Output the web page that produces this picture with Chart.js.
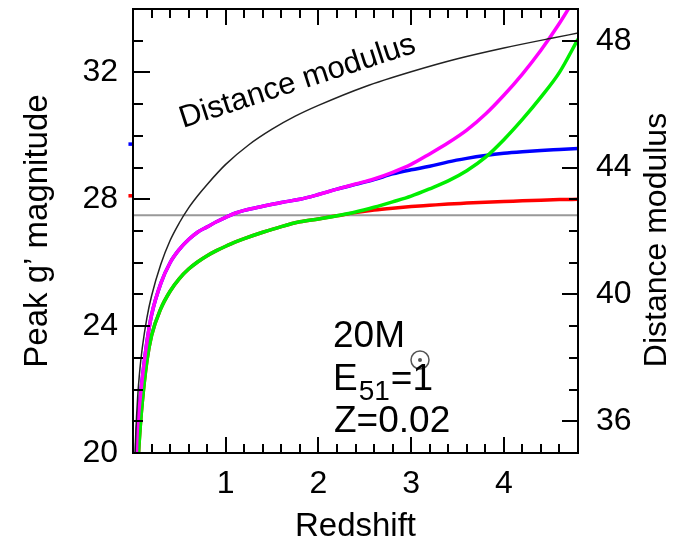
<!DOCTYPE html>
<html>
<head>
<meta charset="utf-8">
<script src="https://cdn.jsdelivr.net/npm/chart.js@4.4.0/dist/chart.umd.min.js"></script>
<style>
  body { margin: 0; background: #fff; }
</style>
</head>
<body>
<canvas id="myChart" width="677" height="544"></canvas>
<script>
// redshift grid for the light curves
var redshift = [0.02, 0.04, 0.06, 0.08, 0.1, 0.15, 0.2, 0.3, 0.4, 0.5, 0.6, 0.7, 0.8, 0.9, 1.0, 1.1, 1.2, 1.4, 1.6, 1.8,
                2.0, 2.2, 2.4, 2.6, 2.8, 3.0, 3.2, 3.4, 3.6, 3.8, 4.0, 4.2, 4.4, 4.6, 4.8];

// peak g' magnitudes
var magentaMag = [17.5, 20.3, 21.2, 21.8, 22.35, 23.5, 24.35, 25.35, 26.0, 26.42, 26.73, 26.97, 27.13, 27.29, 27.43, 27.56, 27.65, 27.78, 27.9, 28.0,
                  28.15, 28.32, 28.48, 28.64, 28.85, 29.1, 29.43, 29.78, 30.18, 30.68, 31.28, 31.95, 32.7, 33.55, 34.5];
var blueMag    = [17.5, 20.3, 21.2, 21.8, 22.35, 23.5, 24.35, 25.35, 26.0, 26.42, 26.73, 26.97, 27.13, 27.29, 27.43, 27.56, 27.65, 27.78, 27.9, 28.0,
                  28.15, 28.32, 28.47, 28.62, 28.8, 28.93, 29.04, 29.18, 29.29, 29.38, 29.45, 29.5, 29.54, 29.57, 29.6];
var greenMag   = [15.5, 18.6, 20.0, 20.9, 21.6, 22.9, 23.7, 24.55, 25.1, 25.5, 25.8, 26.03, 26.22, 26.38, 26.52, 26.65, 26.76, 26.96, 27.14, 27.29,
                  27.38, 27.48, 27.6, 27.75, 27.92, 28.1, 28.33, 28.58, 28.9, 29.32, 29.88, 30.52, 31.22, 32.0, 33.05];
var redMag     = [15.5, 18.6, 20.0, 20.9, 21.6, 22.9, 23.7, 24.55, 25.1, 25.5, 25.8, 26.03, 26.22, 26.38, 26.52, 26.65, 26.76, 26.96, 27.14, 27.29,
                  27.38, 27.48, 27.58, 27.66, 27.72, 27.77, 27.81, 27.85, 27.88, 27.91, 27.93, 27.95, 27.97, 27.99, 28.0];

// distance modulus curve (right axis)
var dmRedshift = [0.01, 0.02, 0.03, 0.05, 0.075, 0.1, 0.15, 0.2, 0.3, 0.4, 0.5, 0.6, 0.7, 0.8, 1.0, 1.25, 1.5, 1.75, 2.0, 2.5, 3.0, 3.5, 4.0, 4.5, 4.8];
var distModulus = [33.1, 34.7, 35.61, 36.75, 37.66, 38.31, 39.26, 39.95, 40.95, 41.7, 42.26, 42.73, 43.12, 43.47, 44.1, 44.72, 45.21, 45.62, 45.96, 46.55, 47.02, 47.43, 47.77, 48.07, 48.24];

// detection limit (horizontal grey line)
var limitMag = 27.5;
var limitRange = [0, 4.8];

// little coloured marks on the left axis
var edgeMarkZ = -0.03;
var edgeMarkMag = [33.0, 29.74, 28.11];
var edgeMarkColors = ['#00ff00', '#0000ff', '#ff0000'];

// axis tick settings
var xMajor = [1, 2, 3, 4];
var yMajor = [20, 24, 28, 32];
var y2Major = [36, 40, 44, 48];

function pts(xs, ys) {
  return xs.map(function(x, i) { return { x: x, y: ys[i] }; });
}

function isIn(list, v) {
  for (var i = 0; i < list.length; i++) {
    if (Math.abs(list[i] - v) < 1e-6) return true;
  }
  return false;
}

var fontFamily = '"Liberation Sans", Arial, Helvetica, sans-serif';

// inward ticks, frame and text labels
var frameTicks = {
  id: 'frameTicks',
  afterDraw: function(chart) {
    var c = chart.ctx, a = chart.chartArea;
    var sx = chart.scales.x, sy = chart.scales.y, sy2 = chart.scales.y2;
    c.save();
    c.strokeStyle = '#000';
    c.lineWidth = 2;
    c.beginPath();
    sx.ticks.forEach(function(t) {
      var px = Math.round(sx.getPixelForValue(t.value));
      var len = isIn(xMajor, t.value) ? 16 : 9;
      c.moveTo(px, a.bottom); c.lineTo(px, a.bottom - len);
      c.moveTo(px, a.top); c.lineTo(px, a.top + len);
    });
    sy.ticks.forEach(function(t) {
      var py = Math.round(sy.getPixelForValue(t.value));
      var len = isIn(yMajor, t.value) ? 17 : 10;
      c.moveTo(a.left, py); c.lineTo(a.left + len, py);
    });
    sy2.ticks.forEach(function(t) {
      var py = Math.round(sy2.getPixelForValue(t.value));
      var len = isIn(y2Major, t.value) ? 16 : 9;
      c.moveTo(a.right, py); c.lineTo(a.right - len, py);
    });
    c.stroke();
    c.strokeRect(a.left, a.top, a.right - a.left, a.bottom - a.top);

    // right axis title, reading upward
    c.fillStyle = '#000';
    c.font = '32px ' + fontFamily;
    c.textAlign = 'center';
    c.textBaseline = 'middle';
    c.save();
    c.translate(657, 240);
    c.rotate(-Math.PI / 2);
    c.fillText('Distance modulus', 0, 0);
    c.restore();

    // label along the distance modulus curve
    c.save();
    c.translate(183, 128);
    c.rotate(-18 * Math.PI / 180);
    c.font = '31px ' + fontFamily;
    c.textAlign = 'left';
    c.textBaseline = 'alphabetic';
    c.fillText('Distance modulus', 0, 0);
    c.restore();

    // model parameters
    c.textAlign = 'left';
    c.textBaseline = 'alphabetic';
    c.font = '37px ' + fontFamily;
    c.fillText('20M', 333, 347);
    c.save();
    c.strokeStyle = '#555';
    c.lineWidth = 1.5;
    c.beginPath();
    c.arc(420, 360, 9, 0, Math.PI * 2);
    c.stroke();
    c.fillStyle = '#555';
    c.beginPath();
    c.arc(420, 360, 2, 0, Math.PI * 2);
    c.fill();
    c.restore();

    var ex = 333;
    c.fillText('E', ex, 390);
    ex += c.measureText('E').width + 1;
    c.font = '28px ' + fontFamily;
    c.fillText('51', ex, 400);
    ex += c.measureText('51').width + 1;
    c.font = '37px ' + fontFamily;
    c.fillText('=1', ex, 390);
    c.fillText('Z=0.02', 334, 432);
    c.restore();
  }
};

var ctx = document.getElementById('myChart').getContext('2d');

var myChart = new Chart(ctx, {
  type: 'line',
  data: {
    datasets: [
      {
        label: 'Distance modulus',
        data: pts(dmRedshift, distModulus),
        yAxisID: 'y2',
        borderColor: '#222',
        borderWidth: 1.5,
        pointRadius: 0,
        cubicInterpolationMode: 'monotone',
        order: 1
      },
      {
        label: 'magenta',
        data: pts(redshift, magentaMag),
        borderColor: '#ff00ff',
        borderWidth: 3.5,
        pointRadius: 0,
        cubicInterpolationMode: 'monotone',
        order: 2
      },
      {
        label: 'green',
        data: pts(redshift, greenMag),
        borderColor: '#00ee00',
        borderWidth: 3.5,
        pointRadius: 0,
        cubicInterpolationMode: 'monotone',
        order: 3
      },
      {
        label: 'blue',
        data: pts(redshift, blueMag),
        borderColor: '#0000ff',
        borderWidth: 3.5,
        pointRadius: 0,
        cubicInterpolationMode: 'monotone',
        order: 4
      },
      {
        label: 'red',
        data: pts(redshift, redMag),
        borderColor: '#ff0000',
        borderWidth: 3.5,
        pointRadius: 0,
        cubicInterpolationMode: 'monotone',
        order: 5
      },
      {
        label: 'limit',
        data: pts(limitRange, [limitMag, limitMag]),
        borderColor: '#999',
        borderWidth: 2,
        pointRadius: 0,
        order: 6
      },
      {
        label: 'marks',
        data: edgeMarkMag.map(function(m) { return { x: edgeMarkZ, y: m }; }),
        showLine: false,
        pointStyle: 'rect',
        pointRadius: 2.5,
        pointBorderWidth: 0,
        pointBackgroundColor: edgeMarkColors,
        clip: false,
        order: 0
      }
    ]
  },
  options: {
    responsive: false,
    animation: false,
    layout: { padding: { top: 9, left: 0, right: 0, bottom: 0 } },
    plugins: {
      legend: { display: false },
      tooltip: { enabled: false }
    },
    scales: {
      x: {
        type: 'linear',
        min: 0,
        max: 4.8,
        grid: { display: false, drawTicks: false },
        border: { display: false },
        ticks: {
          stepSize: 0.2,
          autoSkip: false,
          maxRotation: 0,
          padding: 12,
          color: '#000',
          font: { size: 32, family: fontFamily },
          callback: function(v) { return isIn(xMajor, v) ? String(Math.round(v)) : ''; }
        },
        title: {
          display: true,
          text: 'Redshift',
          color: '#000',
          font: { size: 33, family: fontFamily },
          padding: { top: 0, bottom: -3 }
        },
        afterFit: function(s) { s.height = 91; s.paddingLeft = 0; s.paddingRight = 0; }
      },
      y: {
        type: 'linear',
        position: 'left',
        min: 20,
        max: 34,
        grid: { display: false, drawTicks: false },
        border: { display: false },
        ticks: {
          stepSize: 1,
          autoSkip: false,
          padding: 15,
          color: '#000',
          font: { size: 32, family: fontFamily },
          callback: function(v) { return isIn(yMajor, v) ? String(v) : ''; }
        },
        title: {
          display: true,
          text: 'Peak g’ magnitude',
          color: '#000',
          font: { size: 33, family: fontFamily },
          padding: { top: 18, bottom: 0 }
        },
        afterFit: function(s) { s.width = 133; s.paddingTop = 0; s.paddingBottom = 0; }
      },
      y2: {
        type: 'linear',
        position: 'right',
        min: 35,
        max: 49,
        grid: { display: false, drawTicks: false },
        border: { display: false },
        ticks: {
          stepSize: 1,
          autoSkip: false,
          padding: 18,
          color: '#000',
          font: { size: 32, family: fontFamily },
          callback: function(v) { return isIn(y2Major, v) ? String(v) : ''; }
        },
        afterFit: function(s) { s.width = 99; s.paddingTop = 0; s.paddingBottom = 0; }
      }
    }
  },
  plugins: [frameTicks]
});
</script>
</body>
</html>
